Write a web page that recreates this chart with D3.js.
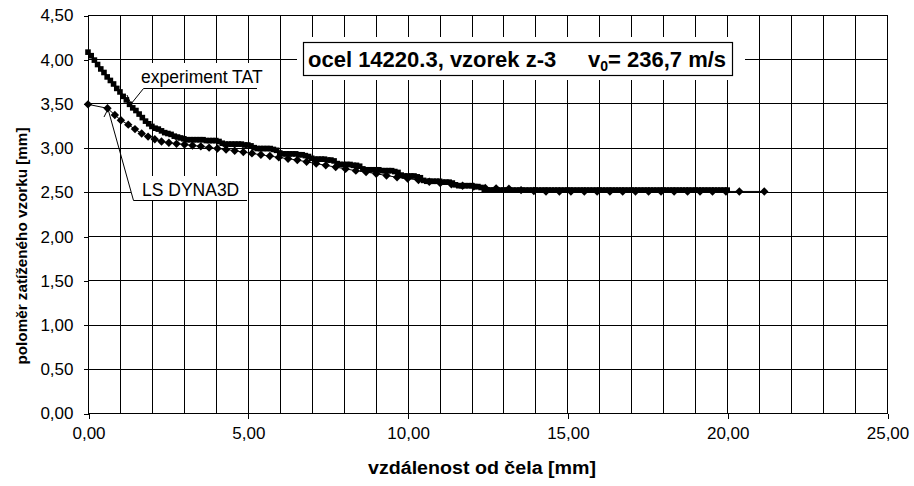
<!DOCTYPE html>
<html><head><meta charset="utf-8">
<script src="https://cdn.jsdelivr.net/npm/d3@7"></script>
<style>
html,body{margin:0;padding:0;background:#fff;}
svg{display:block;font-family:"Liberation Sans",Arial,sans-serif;}
</style></head><body>
<svg id="chart" width="914" height="486"></svg>
<script>
const xTicks = [0,5,10,15,20,25];
const xTickLabels = ["0,00","5,00","10,00","15,00","20,00","25,00"];
const yTicks = [0,0.5,1,1.5,2,2.5,3,3.5,4,4.5];
const yTickLabels = ["0,00","0,50","1,00","1,50","2,00","2,50","3,00","3,50","4,00","4,50"];
const xGridValues = [1,2,3,4,5,6,7,8,9,10,11,12,13,14,15,16,17,18,19,20,21,22,23,24];
const xTitle = "vzdálenost od čela [mm]";
const yTitle = "poloměr zatíženého vzorku [mm]";
const titleMain = "ocel 14220.3, vzorek z-3";
const titleSpeed = ["v","0","= 236,7 m/s"];
const seriesNames = ["experiment TAT","LS DYNA3D"];

const tatX = [0,0.1,0.2,0.3,0.4,0.5,0.6,0.7,0.8,0.9,
1,1.1,1.2,1.3,1.4,1.5,1.6,1.7,1.8,1.9,
2,2.1,2.2,2.3,2.4,2.5,2.6,2.7,2.8,2.9,
3,3.1,3.2,3.3,3.4,3.5,3.6,3.7,3.8,3.9,
4,4.1,4.2,4.3,4.4,4.5,4.6,4.7,4.8,4.9,
5,5.1,5.2,5.3,5.4,5.5,5.6,5.7,5.8,5.9,
6,6.1,6.2,6.3,6.4,6.5,6.6,6.7,6.8,6.9,
7,7.1,7.2,7.3,7.4,7.5,7.6,7.7,7.8,7.9,
8,8.1,8.2,8.3,8.4,8.5,8.6,8.7,8.8,8.9,
9,9.1,9.2,9.3,9.4,9.5,9.6,9.7,9.8,9.9,
10,10.1,10.2,10.3,10.4,10.5,10.6,10.7,10.8,10.9,
11,11.1,11.2,11.3,11.4,11.5,11.6,11.7,11.8,11.9,
12,12.1,12.2,12.3,12.4,12.5,12.6,12.7,12.8,12.9,
13,13.1,13.2,13.3,13.4,13.5,13.6,13.7,13.8,13.9,
14,14.1,14.2,14.3,14.4,14.5,14.6,14.7,14.8,14.9,
15,15.1,15.2,15.3,15.4,15.5,15.6,15.7,15.8,15.9,
16,16.1,16.2,16.3,16.4,16.5,16.6,16.7,16.8,16.9,
17,17.1,17.2,17.3,17.4,17.5,17.6,17.7,17.8,17.9,
18,18.1,18.2,18.3,18.4,18.5,18.6,18.7,18.8,18.9,
19,19.1,19.2,19.3,19.4,19.5,19.6,19.7,19.8,19.9,
20];
const tatY = [4.08,4.04,3.99,3.94,3.89,3.85,3.80,3.76,3.72,3.67,
3.63,3.58,3.54,3.49,3.45,3.42,3.38,3.34,3.30,3.27,
3.24,3.22,3.21,3.19,3.17,3.16,3.15,3.13,3.12,3.11,
3.10,3.09,3.09,3.09,3.09,3.09,3.09,3.08,3.08,3.08,
3.08,3.07,3.05,3.04,3.04,3.04,3.04,3.04,3.04,3.03,
3.03,3.02,3.00,2.99,2.99,2.99,2.99,2.99,2.98,2.97,
2.94,2.93,2.93,2.93,2.93,2.93,2.92,2.92,2.91,2.90,
2.88,2.87,2.87,2.87,2.87,2.86,2.86,2.85,2.82,2.81,
2.81,2.81,2.81,2.80,2.80,2.79,2.76,2.75,2.75,2.75,
2.75,2.75,2.74,2.74,2.74,2.74,2.73,2.72,2.69,2.68,
2.68,2.68,2.68,2.67,2.66,2.63,2.62,2.62,2.62,2.62,
2.62,2.61,2.61,2.61,2.60,2.58,2.57,2.57,2.57,2.57,
2.57,2.56,2.56,2.55,2.53,2.52,2.52,2.52,2.52,2.52,
2.52,2.52,2.52,2.52,2.52,2.52,2.52,2.52,2.52,2.52,
2.52,2.52,2.52,2.52,2.52,2.52,2.52,2.52,2.52,2.52,
2.52,2.52,2.52,2.52,2.52,2.52,2.52,2.52,2.52,2.52,
2.52,2.52,2.52,2.52,2.52,2.52,2.52,2.52,2.52,2.52,
2.52,2.52,2.52,2.52,2.52,2.52,2.52,2.52,2.52,2.52,
2.52,2.52,2.52,2.52,2.52,2.52,2.52,2.52,2.52,2.52,
2.52,2.52,2.52,2.52,2.52,2.52,2.52,2.52,2.52,2.52,
2.52];

const dynaX = [0,0.61,0.84,1.03,1.26,1.47,1.68,1.88,2.09,2.30,
2.53,2.77,3.02,3.27,3.53,3.79,4.05,4.32,4.59,4.86,
5.13,5.41,5.69,5.97,6.26,6.55,6.84,7.14,7.44,7.75,
8.06,8.38,8.70,9.02,9.34,9.67,10.00,10.34,10.68,11.02,
11.37,11.72,12.07,12.43,12.77,13.17,13.55,13.95,14.33,14.75,
15.11,15.53,15.93,16.33,16.73,17.13,17.54,17.93,18.34,18.76,
19.15,19.54,19.96,20.38,21.16];
const dynaY = [3.49,3.445,3.37,3.31,3.26,3.21,3.16,3.125,3.095,3.07,
3.055,3.045,3.035,3.025,3.015,3.00,2.99,2.98,2.965,2.95,
2.935,2.92,2.905,2.89,2.875,2.86,2.84,2.82,2.80,2.78,
2.76,2.74,2.725,2.705,2.685,2.665,2.65,2.635,2.615,2.60,
2.585,2.57,2.56,2.545,2.54,2.535,2.52,2.51,2.505,2.505,
2.505,2.505,2.505,2.505,2.505,2.505,2.505,2.505,2.505,2.505,
2.505,2.505,2.505,2.505,2.505];

const svg = d3.select("#chart");
const x = d3.scaleLinear().domain([0,25]).range([88,887]);
const y = d3.scaleLinear().domain([0,4.5]).range([413,15]);
const px = v => Math.round(v) + 0.5;
const ink = "#000";

// gridlines
const grid = svg.append("g").attr("stroke", ink).attr("stroke-width", 1).attr("shape-rendering","crispEdges");
grid.selectAll("line.v").data(xGridValues).join("line")
  .attr("x1", d => px(x(d))).attr("x2", d => px(x(d)))
  .attr("y1", y(4.5)).attr("y2", y(0));
grid.selectAll("line.h").data(yTicks.filter(d => d > 0 && d < 4.5)).join("line")
  .attr("y1", d => px(y(d))).attr("y2", d => px(y(d)))
  .attr("x1", x(0)).attr("x2", x(25));

// plot frame
svg.append("rect").attr("x", px(x(0))).attr("y", px(y(4.5)))
  .attr("width", Math.round(x(25)) - Math.round(x(0))).attr("height", Math.round(y(0)) - Math.round(y(4.5)))
  .attr("fill","none").attr("stroke", ink).attr("shape-rendering","crispEdges");

// axes
const yAxis = d3.axisLeft(y).tickValues(yTicks).tickFormat((d,i) => yTickLabels[i]).tickSize(5).tickPadding(10);
const gy = svg.append("g").attr("transform", `translate(${px(x(0))},0.5)`).call(yAxis);
const xAxis = d3.axisBottom(x).tickValues(xTicks).tickFormat((d,i) => xTickLabels[i]).tickSize(5).tickPadding(8);
const gx = svg.append("g").attr("transform", `translate(0.5,${px(y(0))})`).call(xAxis);
[gx, gy].forEach(g => {
  g.select(".domain").remove();
  g.selectAll("line").attr("stroke", ink).attr("shape-rendering","crispEdges");
  g.selectAll("text").attr("font-size", 17).attr("fill", ink).attr("font-family", '"Liberation Sans",Arial,sans-serif');
});

// axis titles
svg.append("text").attr("x", 482).attr("y", 474).attr("text-anchor","middle")
  .attr("font-weight","bold").attr("font-size", 18)
  .attr("textLength", 228).attr("lengthAdjust","spacingAndGlyphs").text(xTitle);
svg.append("text").attr("transform","translate(27,246) rotate(-90)").attr("text-anchor","middle")
  .attr("font-weight","bold").attr("font-size", 15)
  .attr("textLength", 237).attr("lengthAdjust","spacingAndGlyphs").text(yTitle);

// title box
svg.append("rect").attr("x", 297).attr("y", 37).attr("width", 448).attr("height", 43).attr("fill","#fff");
svg.append("rect").attr("x", 303.5).attr("y", 42.5).attr("width", 429).attr("height", 33)
  .attr("fill","#fff").attr("stroke", ink).attr("stroke-width", 1.2);
svg.append("text").attr("x", 308).attr("y", 67).attr("font-weight","bold").attr("font-size", 22).text(titleMain);
const sp = svg.append("text").attr("x", 588).attr("y", 67).attr("font-weight","bold").attr("font-size", 22);
sp.append("tspan").text(titleSpeed[0]);
sp.append("tspan").attr("dy", 4).attr("font-size", 14).text(titleSpeed[1]);
sp.append("tspan").attr("dy", -4).text(titleSpeed[2]);

// series label boxes
svg.append("rect").attr("x", 139).attr("y", 63).attr("width", 122).attr("height", 25).attr("fill","#fff");
svg.append("rect").attr("x", 131).attr("y", 176).attr("width", 117).attr("height", 24).attr("fill","#fff");

// series lines
const line = d3.line().x(d => x(d[0])).y(d => y(d[1]));
const tat = tatX.map((d,i) => [d, tatY[i]]);
const dyna = dynaX.map((d,i) => [d, dynaY[i]]);
svg.append("path").datum(dyna).attr("d", line).attr("fill","none").attr("stroke", ink).attr("stroke-width", 1);
svg.append("path").datum(tat).attr("d", line).attr("fill","none").attr("stroke", ink).attr("stroke-width", 2);

// markers
const diamond = (cx, cy, r) => `M${cx},${cy-r}L${cx+r},${cy}L${cx},${cy+r}L${cx-r},${cy}Z`;
svg.append("g").selectAll("rect").data(tat).join("rect")
  .attr("x", d => x(d[0]) - 2.8).attr("y", d => y(d[1]) - 2.8)
  .attr("width", 5.6).attr("height", 5.6).attr("fill", ink);
svg.append("g").selectAll("path").data(dyna).join("path")
  .attr("d", d => diamond(x(d[0]), y(d[1]), 4.2)).attr("fill", ink);

// labels with leader lines
svg.append("text").attr("x", 141).attr("y", 83).attr("font-size", 17.5).attr("fill", ink).text(seriesNames[0]);
svg.append("path").attr("d", "M257,88.5H143.5L131,104").attr("fill","none").attr("stroke", ink).attr("stroke-width", 1);
svg.append("path").attr("d", "M127,95L131,104").attr("fill","none").attr("stroke", ink).attr("stroke-width", 1);
svg.append("text").attr("x", 142).attr("y", 196).attr("font-size", 17.5).attr("fill", ink).text(seriesNames[1]);
svg.append("path").attr("d", "M247,200.5H133.5L108,109").attr("fill","none").attr("stroke", ink).attr("stroke-width", 1);
svg.append("path").attr("d", "M104,117L108,109").attr("fill","none").attr("stroke", ink).attr("stroke-width", 1);
</script>
</body></html>
